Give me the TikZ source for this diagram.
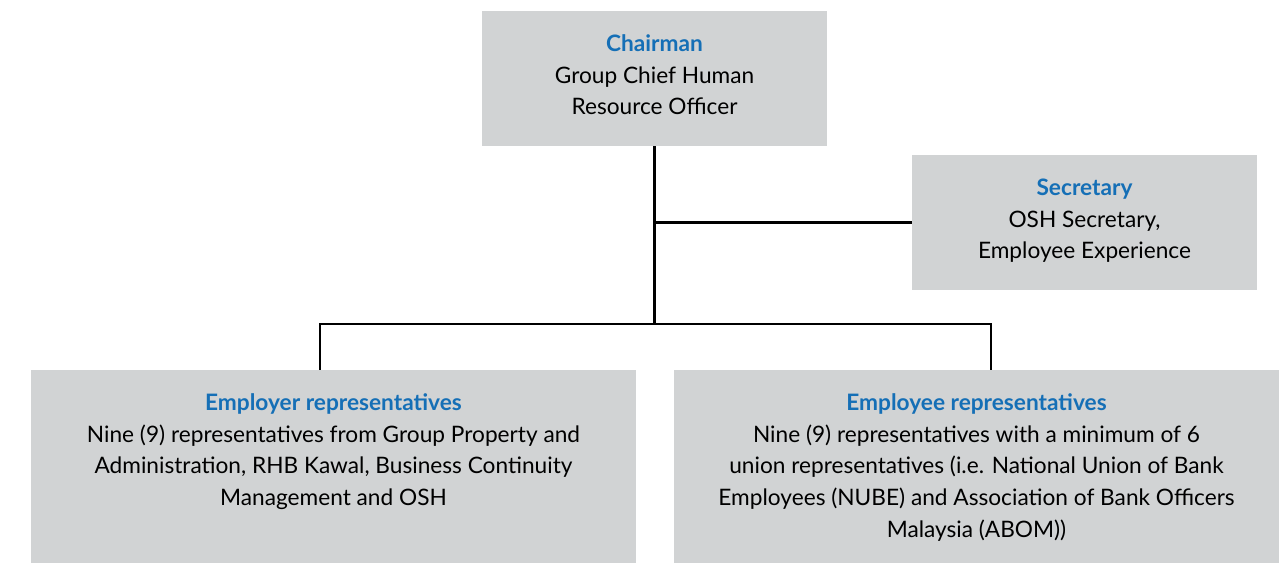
\documentclass[tikz,border=0pt]{standalone}
\usepackage{fontspec}
\setmainfont{Lato}
\usetikzlibrary{positioning}

\definecolor{boxgray}{HTML}{D1D3D4}
\definecolor{headblue}{HTML}{156FB6}

\newcommand{\boxhead}[1]{\strut{\bfseries\color{headblue}#1}}

\begin{document}
\begin{tikzpicture}[x=0.02cm, y=-0.02cm,
		box/.style={fill=boxgray, inner sep=0pt},
		smallbox/.style={box, minimum width=6.9cm, minimum height=2.7cm},
		bigbox/.style={box, minimum width=12.1cm, minimum height=3.86cm},
		boxtext/.style={inner sep=0pt, align=center, font=\fontsize{12.9}{18.1}\selectfont},
		link/.style={line width=1.3pt}]
		\useasboundingbox (0,0) rectangle (1282,563);

		% the four committee boxes
		\draw (654.5,78.5) node[smallbox] (chair) {};
		\draw (1084.5,222.5) node[smallbox] (secr) {};
		\draw (333.5,466.5) node[bigbox] (emplr) {};
		\draw (976.5,466.5) node[bigbox] (emplee) {};

		\node[boxtext, below=0.36cm of chair.north] (chairtxt) {\boxhead{Chairman}\\
			Group Chief Human\\ Resource Officer};
		\node[boxtext, below=0.36cm of secr.north] (secrtxt) {\boxhead{Secretary}\\
			OSH Secretary,\\ Employee Experience};
		\node[boxtext, below=0.36cm of emplr.north] (emplrtxt) {\boxhead{Employer representatives}\\
			Nine (9) representatives from Group Property and\\
			Administration, RHB Kawal, Business Continuity\\
			Management and OSH};
		\node[boxtext, below=0.36cm of emplee.north] (empleetxt) {\boxhead{Employee representatives}\\
			Nine (9) representatives with a minimum of 6\\
			union representatives (i.e. National Union of Bank\\
			Employees (NUBE) and Association of Bank Officers\\
			Malaysia (ABOM))};

		% reporting lines
		\coordinate (hub) at (654.5,324);
		\coordinate (lfoot) at (320,370);
		\coordinate (rfoot) at (991,370);
		\draw[link] (chair.south) -- (hub);
		\draw[link] (secr.west) -- (secr.west -| hub);
		\draw[link] (lfoot) |- (hub) -| (rfoot);
	\end{tikzpicture}
\end{document}
